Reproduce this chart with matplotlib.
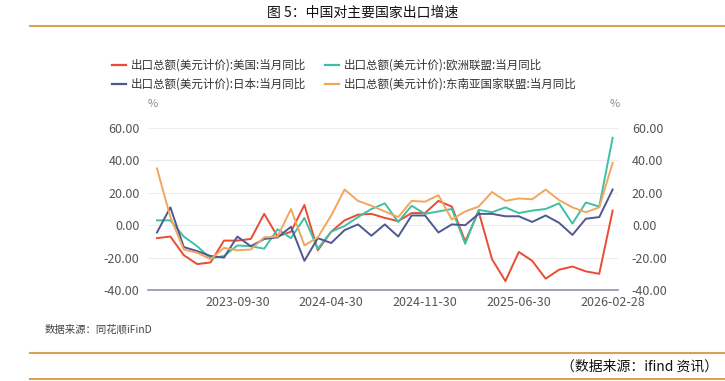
import matplotlib
matplotlib.use('Agg')
import matplotlib.pyplot as plt
from matplotlib.lines import Line2D

plt.rcParams['font.family'] = ['Noto Sans CJK SC', 'DejaVu Sans']

# month-on-month series, one point per reported month (35 points)
us = [-8, -7, -18.5, -24, -23, -9.5, -9.5, -8.5, 7, -7,
      -4, 12.5, -15.5, -4, 3, 6.5, 7, 4.5, 2.5, 7.5,
      7.5, 15, 11.5, -10, 8.5, -21, -34.5, -16.5, -22, -33,
      -27.5, -25.5, -28.5, -30, 9]
eu = [3, 3, -7, -13, -20.5, -19, -12.5, -13, -14.5, -2.5,
      -8, 4.5, -14.5, -4, -0.5, 5, 10, 13.5, 2, 12,
      7, 8.5, 10, -11.5, 9.5, 8, 11, 7.5, 9, 10,
      13.5, 1, 14, 11.5, 54]
japan = [-4.5, 11, -13.5, -16, -19, -20, -7, -13, -8.5, -7.5,
         -1, -22, -8, -11, -3, 0.5, -6.5, 0.5, -7, 6,
         6, -4.5, 0.5, 0, 7, 7, 5.5, 5.5, 2, 6,
         1.5, -6, 4, 5, 22]
asean = [35, 5, -15, -17, -21, -14, -15.5, -15, -7.5, -7,
         10, -12.5, -7.5, 6, 22, 15, 12, 8.5, 5, 15,
         14.5, 18.5, 3.5, 8.5, 11.5, 20.5, 15, 16.5, 16, 22,
         15.5, 11, 8, 11, 38.5]

tick_pos = [6, 13, 20, 27, 34]
tick_labels = ['2023-09-30', '2024-04-30', '2024-11-30', '2025-06-30', '2026-02-28']
y_ticks = [-40, -20, 0, 20, 40, 60]

names = ['出口总额(美元计价):美国:当月同比', '出口总额(美元计价):欧洲联盟:当月同比',
         '出口总额(美元计价):日本:当月同比', '出口总额(美元计价):东南亚国家联盟:当月同比']
colors = ['#EB4B35', '#3FC0A6', '#4E5891', '#F2A65C']
gold = '#D6A257'

fig = plt.figure(figsize=(7.25, 3.81), dpi=100)

# title and rules
fig.text(0.5, 1 - 13 / 381, '图 5：中国对主要国家出口增速', ha='center', va='center',
         fontsize=10, color='#111111')
fig.add_artist(Line2D([30 / 725, 1], [1 - 26 / 381] * 2, color=gold, lw=1.5))
fig.add_artist(Line2D([30 / 725, 1], [1 - 353 / 381] * 2, color=gold, lw=1.5))
fig.add_artist(Line2D([30 / 725, 1], [1 - 379 / 381] * 2, color=gold, lw=1.5))

ax = fig.add_axes([148 / 725, 1 - 290 / 381, 470 / 725, 162 / 381])
x = list(range(len(us)))
series = [us, eu, japan, asean]
for s, c in zip(series, colors):
    ax.plot(x, s, color=c, lw=1.4)

ax.set_xlim(-0.67, 34.4)
ax.set_ylim(-40, 60)
ax.set_yticks(y_ticks)
ax.set_yticklabels([f'{v:.2f}' for v in y_ticks])
ax.set_xticks(tick_pos)
ax.set_xticklabels(tick_labels)
ax.tick_params(length=0, labelsize=9, colors='#555555', pad=6)
ax.tick_params(axis='x', pad=4)
for v in y_ticks[1:]:
    ax.axhline(v, color='#EDEDED', lw=0.8, zorder=0)
for sp in ['top', 'right', 'left']:
    ax.spines[sp].set_visible(False)
ax.spines['bottom'].set_color('#8C93B5')
ax.spines['bottom'].set_linewidth(1.2)

ax2 = ax.twinx()
ax2.set_ylim(-40, 60)
ax2.set_yticks(y_ticks)
ax2.set_yticklabels([f'{v:.2f}' for v in y_ticks])
ax2.tick_params(length=0, labelsize=9, colors='#555555', pad=10)
for sp in ax2.spines.values():
    sp.set_visible(False)

fig.text(153 / 725, 1 - 104 / 381, '%', ha='center', va='center', fontsize=8, color='#888888')
fig.text(615 / 725, 1 - 104 / 381, '%', ha='center', va='center', fontsize=8, color='#888888')

# legend: column-first fill gives 美国/欧盟 on row 1, 日本/东盟 on row 2
order = [0, 2, 1, 3]
handles = [Line2D([], [], color=colors[i], lw=1.6) for i in order]
fig.legend(handles, [names[i] for i in order], ncol=2, frameon=False,
           loc='upper left', bbox_to_anchor=(112 / 725, 1 - 59 / 381),
           borderpad=0, borderaxespad=0, handlelength=1.2, handletextpad=0.45,
           columnspacing=1.6, labelspacing=0.5, fontsize=8.3, labelcolor='#333333')

fig.text(45 / 725, 1 - 330 / 381, '数据来源：同花顺iFinD', ha='left', va='center',
         fontsize=7.5, color='#444444')
fig.text(718 / 725, 1 - 367 / 381, '（数据来源：ifind 资讯）', ha='right', va='center',
         fontsize=10, color='#111111')

fig.savefig('out.png', dpi=100)
